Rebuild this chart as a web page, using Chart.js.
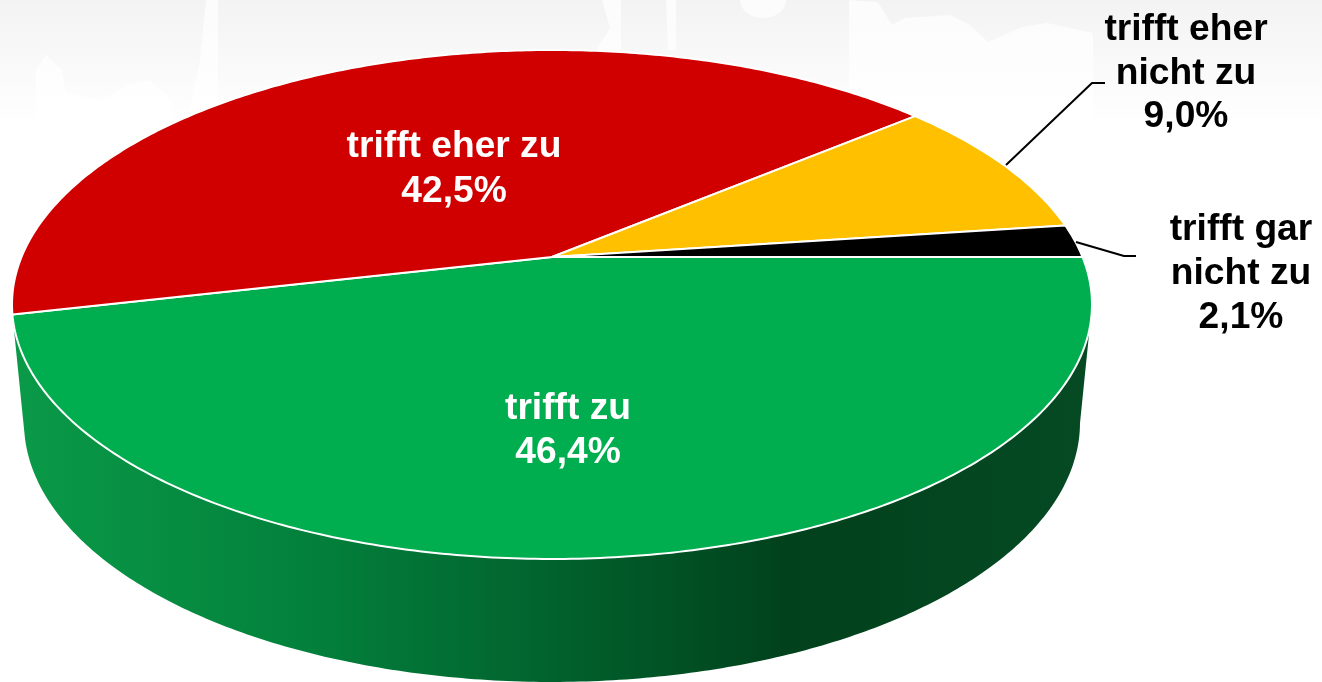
<!DOCTYPE html>
<html><head><meta charset="utf-8">
<style>html,body{margin:0;padding:0;background:#fff}canvas{display:block}#w{position:relative;width:1322px;height:682px;overflow:hidden}</style>
<script src="https://cdn.jsdelivr.net/npm/chart.js@4/dist/chart.umd.js"></script>
</head><body><div id="w"><canvas id="c" width="1322" height="682"></canvas></div>
<script>
const categories = ['trifft zu', 'trifft eher zu', 'trifft eher nicht zu', 'trifft gar nicht zu'];
const values = [46.4, 42.5, 9.0, 2.1];
const colors = ['#00AE4F', '#D00000', '#FFC000', '#000000'];
const labelLines = [['trifft zu'], ['trifft eher zu'], ['trifft eher', 'nicht zu'], ['trifft gar', 'nicht zu']];
const labelColors = ['#ffffff', '#ffffff', '#000000', '#000000'];
const labelCenters = [[568, 419], [454, 157], [1186, 40], [1241, 240]];
const labelSteps = [44, 45, 43.5, 44];
const leaderLines = [null, null, [[1006, 165], [1092, 83], [1105, 83]], [[1076, 242], [1124, 256], [1136, 256]]];

// perspective of the disc: unit circle -> screen
const PERSP = -0.1866, TILT = 0.463;
const project = (el, a) => {
  const u = Math.cos(a), v = Math.sin(a), d = 1 + PERSP * v, R = el.outerRadius;
  return [el.x + R * u / d, el.y + R * TILT * v / d];
};
const lower = (el, p) => [el.x + 0.9778 * (p[0] - el.x), 423 + 1.0196 * (p[1] - 305)];
const WALL_FROM = 10.9 * Math.PI / 180, WALL_TO = Math.PI;

class PerspectiveArc extends Chart.ArcElement {
  static id = 'perspectiveArc';
  static defaults = Chart.ArcElement.defaults;
  draw(ctx) {
    const o = this.options;
    const a0 = this.startAngle, a1 = this.endAngle;
    const steps = Math.max(8, Math.ceil((a1 - a0) * 90));
    // side wall: only the slice that starts on the front half shows one
    const w0 = Math.max(a0, WALL_FROM), w1 = Math.min(a1, WALL_TO);
    if (a0 < WALL_FROM && w1 > w0) {
      const g = ctx.createLinearGradient(13, 0, 1092, 0);
      g.addColorStop(0, '#0a9a48');
      g.addColorStop(0.27, '#03813c');
      g.addColorStop(0.5, '#01622d');
      g.addColorStop(0.72, '#01411c');
      g.addColorStop(1, '#054a23');
      ctx.beginPath();
      for (let i = 0; i <= steps; i++) {
        const p = project(this, w0 + (w1 - w0) * i / steps);
        i ? ctx.lineTo(p[0], p[1]) : ctx.moveTo(p[0], p[1]);
      }
      for (let i = steps; i >= 0; i--) {
        const p = lower(this, project(this, w0 + (w1 - w0) * i / steps));
        ctx.lineTo(p[0], p[1]);
      }
      ctx.closePath();
      ctx.fillStyle = g;
      ctx.fill();
    }
    // top face
    ctx.beginPath();
    ctx.moveTo(this.x, this.y);
    for (let i = 0; i <= steps; i++) {
      const p = project(this, a0 + (a1 - a0) * i / steps);
      ctx.lineTo(p[0], p[1]);
    }
    ctx.closePath();
    ctx.fillStyle = o.backgroundColor;
    ctx.fill();
    ctx.strokeStyle = o.borderColor;
    ctx.lineWidth = o.borderWidth;
    ctx.lineJoin = 'round';
    ctx.stroke();
  }
}
class PerspectivePie extends Chart.DoughnutController {
  static id = 'perspectivePie';
  static defaults = {...Chart.DoughnutController.defaults, dataElementType: 'perspectiveArc'};
  static overrides = Chart.DoughnutController.overrides;
}
Chart.register(PerspectiveArc, PerspectivePie);

const backdrop = {
  id: 'backdrop',
  beforeDraw(chart) {
    const c = chart.ctx;
    const g = c.createLinearGradient(0, 0, 0, 125);
    g.addColorStop(0, '#f3f3f3');
    g.addColorStop(1, '#ffffff');
    c.fillStyle = g;
    c.fillRect(0, 0, 1322, 130);
    // faint skyline
    c.fillStyle = 'rgba(255,255,255,0.7)';
    const shapes = [
      [[36,130],[36,70],[46,55],[62,70],[66,92],[100,100],[128,85],[150,80],[172,100],[172,130]],
      [[185,130],[200,60],[206,0],[218,0],[218,130]],
      [[596,50],[610,28],[602,0],[621,0],[621,50]],
      [[849,130],[849,0],[878,2],[892,25],[905,18],[950,15],[970,25],[988,42],[1022,27],[1047,23],[1093,33],[1093,130]],
      [[666,0],[668,50],[676,50],[676,0]]
    ];
    shapes.forEach(s => {
      c.beginPath();
      s.forEach((p, i) => i ? c.lineTo(p[0], p[1]) : c.moveTo(p[0], p[1]));
      c.closePath();
      c.fill();
    });
    c.beginPath();
    c.ellipse(763, 0, 23, 18, 0, 0, Math.PI * 2);
    c.fill();
  }
};
const sliceLabels = {
  id: 'sliceLabels',
  afterDatasetsDraw(chart) {
    const c = chart.ctx;
    c.save();
    c.font = 'bold 37.2px "Liberation Sans", Arial, sans-serif';
    c.textAlign = 'center';
    c.textBaseline = 'alphabetic';
    values.forEach((val, i) => {
      const lines = [...labelLines[i], val.toFixed(1).replace('.', ',') + '%'];
      c.fillStyle = labelColors[i];
      lines.forEach((t, k) => c.fillText(t, labelCenters[i][0], labelCenters[i][1] + k * labelSteps[i]));
      if (leaderLines[i]) {
        c.beginPath();
        leaderLines[i].forEach((p, k) => k ? c.lineTo(p[0], p[1]) : c.moveTo(p[0], p[1]));
        c.strokeStyle = '#000';
        c.lineWidth = 2;
        c.stroke();
      }
    });
    c.restore();
  }
};
new Chart(document.getElementById('c'), {
  type: 'perspectivePie',
  data: { labels: categories, datasets: [{ data: values, backgroundColor: colors, borderColor: '#ffffff', borderWidth: 2, radius: 530.5 }] },
  options: {
    responsive: false,
    animation: false,
    rotation: 90,
    layout: { padding: { left: 0, top: 0, right: 218, bottom: 168 } },
    plugins: { legend: { display: false }, tooltip: { enabled: false } }
  },
  plugins: [backdrop, sliceLabels]
});
</script></body></html>
